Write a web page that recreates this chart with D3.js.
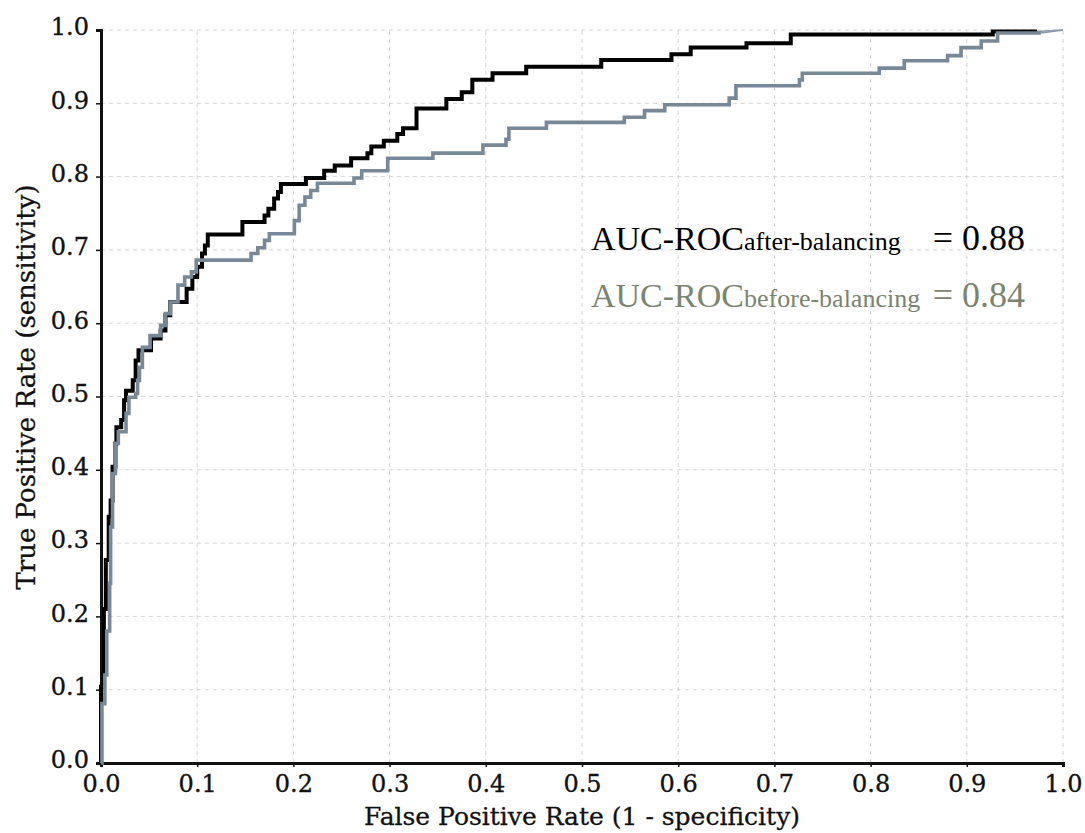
<!DOCTYPE html>
<html>
<head>
<meta charset="utf-8">
<script src="https://cdn.jsdelivr.net/npm/d3@7"></script>
<style>
  body { margin: 0; background: #fff; }
  svg { display: block; }
  .note, .note tspan { font-family: "Liberation Serif", "Times New Roman", Times, serif; }
</style>
</head>
<body>
<script>
// ROC step points: [fpr, tpr] where tpr jumps at fpr
const afterBalancing = [
  [0, 0], [0, 0.104], [0.003, 0.21], [0.005, 0.277], [0.008, 0.336], [0.010, 0.358],
  [0.012, 0.404], [0.015, 0.436], [0.016, 0.458], [0.021, 0.468], [0.024, 0.495],
  [0.026, 0.508], [0.033, 0.522], [0.036, 0.549], [0.039, 0.563], [0.052, 0.579],
  [0.062, 0.590], [0.067, 0.611], [0.072, 0.629], [0.089, 0.647], [0.095, 0.663],
  [0.100, 0.677], [0.105, 0.695], [0.108, 0.706], [0.111, 0.721], [0.147, 0.738],
  [0.170, 0.747], [0.174, 0.756], [0.180, 0.770], [0.184, 0.779], [0.187, 0.790],
  [0.213, 0.798], [0.232, 0.808], [0.243, 0.815], [0.260, 0.825], [0.277, 0.832],
  [0.281, 0.841], [0.294, 0.849], [0.308, 0.858], [0.314, 0.866], [0.328, 0.893],
  [0.359, 0.906], [0.375, 0.915], [0.386, 0.932], [0.407, 0.941], [0.442, 0.950],
  [0.520, 0.959], [0.593, 0.967], [0.613, 0.976], [0.671, 0.982], [0.717, 0.994],
  [0.927, 0.998], [0.973, 0.998]
];
const beforeBalancing = [
  [0, 0], [0.001, 0.081], [0.004, 0.12], [0.006, 0.18], [0.009, 0.245], [0.010, 0.322],
  [0.012, 0.395], [0.015, 0.436], [0.018, 0.452], [0.026, 0.477], [0.029, 0.499],
  [0.036, 0.504], [0.038, 0.522], [0.040, 0.540], [0.043, 0.567], [0.051, 0.583],
  [0.062, 0.597], [0.067, 0.613], [0.072, 0.629], [0.080, 0.652], [0.087, 0.663],
  [0.094, 0.670], [0.099, 0.686], [0.156, 0.695], [0.163, 0.703], [0.170, 0.713],
  [0.175, 0.722], [0.201, 0.740], [0.206, 0.761], [0.212, 0.772], [0.218, 0.781],
  [0.225, 0.791], [0.263, 0.798], [0.271, 0.808], [0.298, 0.825], [0.345, 0.832],
  [0.397, 0.843], [0.421, 0.851], [0.424, 0.866], [0.463, 0.874], [0.544, 0.881],
  [0.565, 0.890], [0.586, 0.898], [0.653, 0.907], [0.660, 0.924], [0.726, 0.932],
  [0.729, 0.941], [0.809, 0.948], [0.835, 0.958], [0.880, 0.965], [0.894, 0.976],
  [0.915, 0.985], [0.932, 0.996], [0.977, 0.996]
];
const endPoint = [1, 1];
const ticks = [0, 0.1, 0.2, 0.3, 0.4, 0.5, 0.6, 0.7, 0.8, 0.9, 1.0];
const aucAfter = 0.88;
const aucBefore = 0.84;

const width = 1085, height = 833;
const margin = {top: 30, right: 22, bottom: 70, left: 101};
const serif = "DejaVu Serif";

const svg = d3.select("body").append("svg")
    .attr("width", width)
    .attr("height", height);

const x = d3.scaleLinear()
    .domain([0, 1])
    .range([margin.left, width - margin.right]);
const y = d3.scaleLinear()
    .domain([0, 1])
    .range([height - margin.bottom, margin.top]);

// grid
svg.append("g")
    .attr("stroke", "#d4d4d4")
    .attr("stroke-dasharray", "4,4")
    .call(g => g.selectAll("line.v")
      .data(ticks.slice(1))
      .join("line")
        .attr("class", "v")
        .attr("x1", d => x(d)).attr("x2", d => x(d))
        .attr("y1", y(0)).attr("y2", y(1)))
    .call(g => g.selectAll("line.h")
      .data(ticks.slice(1))
      .join("line")
        .attr("class", "h")
        .attr("x1", x(0)).attr("x2", x(1))
        .attr("y1", d => y(d)).attr("y2", d => y(d)));

const tickFmt = d3.format(".1f");
const styleTicks = g => g.selectAll(".tick text")
    .attr("fill", "#111")
    .attr("stroke", "#111")
    .attr("stroke-width", 0.35)
    .attr("font-family", serif)
    .attr("font-size", 24);

// x axis
svg.append("g")
    .attr("transform", `translate(0,${y(0)})`)
    .call(d3.axisBottom(x).tickValues(ticks).tickFormat(tickFmt).tickSize(4).tickPadding(8))
    .call(g => g.select(".domain").attr("stroke", "#111").attr("stroke-width", 3))
    .call(g => g.selectAll(".tick line").attr("stroke", "#111").attr("stroke-width", 1.5))
    .call(styleTicks);

// y axis
svg.append("g")
    .attr("transform", `translate(${x(0)},0)`)
    .call(d3.axisLeft(y).tickValues(ticks).tickFormat(tickFmt).tickSize(5).tickPadding(7))
    .call(g => g.select(".domain").attr("stroke", "#111").attr("stroke-width", 3))
    .call(g => g.selectAll(".tick line").attr("stroke", "#111").attr("stroke-width", 1.5))
    .call(styleTicks)
    .call(g => g.selectAll(".tick text").attr("dy", "0.2em"));

// axis titles
svg.append("text")
    .attr("x", 582)
    .attr("y", 825)
    .attr("text-anchor", "middle")
    .attr("font-family", serif)
    .attr("font-size", 25)
    .attr("fill", "#111")
    .attr("stroke", "#111")
    .attr("stroke-width", 0.3)
    .text("False Positive Rate (1 - specificity)");

svg.append("text")
    .attr("transform", "translate(35,387) rotate(-90)")
    .attr("text-anchor", "middle")
    .attr("font-family", serif)
    .attr("font-size", 26)
    .attr("fill", "#111")
    .attr("stroke", "#111")
    .attr("stroke-width", 0.3)
    .text("True Positive Rate (sensitivity)");

const step = d3.line()
    .x(d => x(d[0]))
    .y(d => y(d[1]))
    .curve(d3.curveStepAfter);

const tail = d3.line()
    .x(d => x(d[0]))
    .y(d => y(d[1]));

// thin closing segments to (1,1)
[afterBalancing, beforeBalancing].forEach(s => {
  svg.append("path")
      .attr("d", tail([s[s.length - 1], endPoint]))
      .attr("fill", "none").attr("stroke", "#8a9aaa").attr("stroke-width", 1.5);
});

svg.append("path")
    .attr("d", step(afterBalancing))
    .attr("fill", "none")
    .attr("stroke", "#000")
    .attr("stroke-width", 4);

svg.append("path")
    .attr("d", step(beforeBalancing))
    .attr("fill", "none")
    .attr("stroke", "#778899")
    .attr("stroke-width", 3.6);

// AUC annotations
const notes = [
  {sub: "after-balancing", auc: aucAfter, color: "#000", base: 250},
  {sub: "before-balancing", auc: aucBefore, color: "#7b846f", base: 307}
];
notes.forEach(n => {
  const t = svg.append("text")
      .attr("class", "note")
      .attr("x", 591)
      .attr("y", n.base)
      .attr("fill", n.color);
  t.append("tspan").style("font-size", "34px").text("AUC-ROC");
  t.append("tspan").style("font-size", "26px").text(n.sub);
  svg.append("text")
      .attr("class", "note")
      .attr("x", 1025)
      .attr("y", n.base)
      .attr("text-anchor", "end")
      .style("font-size", "36px")
      .attr("fill", n.color)
      .text("= " + n.auc.toFixed(2));
});
</script>
</body>
</html>
